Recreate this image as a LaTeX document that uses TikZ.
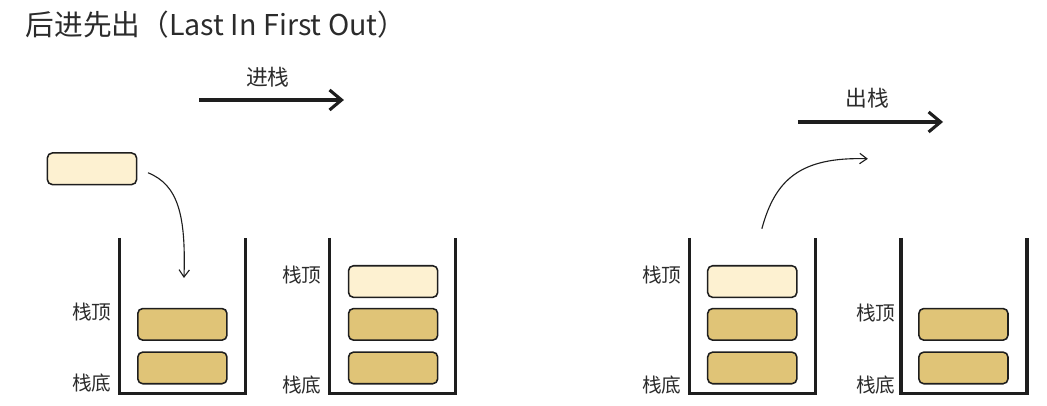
\documentclass[tikz,border=0pt]{standalone}
\usepackage{fontspec}
\setmainfont{Noto Sans CJK SC}
\usepackage{xcolor}
\usepackage{tikz}
\usetikzlibrary{arrows.meta}
\definecolor{LFGold}{HTML}{E0C477}
\definecolor{LFCream}{HTML}{FDF1D1}
\definecolor{LFInk}{HTML}{1E1E1E}
\definecolor{LFText}{HTML}{2B2B2B}
\tikzset{
  stackitem/.style={draw=LFInk,line width=1.1pt,rounded corners=3.5pt,minimum width=2.23cm,minimum height=0.79cm,inner sep=0pt},
  olditem/.style={stackitem,fill=LFGold},
  newitem/.style={stackitem,fill=LFCream},
  wall/.style={draw=LFInk,line width=2.2pt},
  sidelabel/.style={text=LFText,inner sep=0pt,font=\fontsize{14}{16}\selectfont},
  bigarrow/.style={draw=LFInk,line width=2.2pt,-{Straight Barb[length=3mm,width=5mm]}},
  thinarrow/.style={draw=LFInk,line width=0.8pt,-{Straight Barb[length=1.8mm,width=2.6mm]}}
}

\begin{document}
\begin{tikzpicture}[x=1cm,y=1cm]
\path[use as bounding box] (0,0) rectangle (26.18,10.15);
\node[anchor=west,inner sep=0pt,text=LFText,font=\fontsize{20.4}{24}\selectfont] (title) at (0.64,9.53) {后进先出（Last In First Out）};
% push
\coordinate (push-s) at (4.98,7.65);
\coordinate (push-e) at (8.60,7.65);
\draw[bigarrow] (push-s) -- (push-e);
\node[text=LFText,font=\fontsize{15.5}{18}\selectfont] (push-lbl) at (6.70,8.23) {进栈};
\node[newitem] (in-item) at (2.30,5.93) {};
\coordinate (in-s) at (3.70,5.83);
\coordinate (in-e) at (4.60,3.20);
\draw[thinarrow] (in-s) .. controls (4.45,5.53) and (4.65,4.78) .. (in-e);
% stack 1
\draw[wall] (2.98,4.20) -- (2.98,0.30) -- (6.13,0.30) -- (6.13,4.20);
\node[olditem] (s1-b) at (4.56,0.95) {};
\node[olditem] (s1-m) at (4.56,2.04) {};
\node[sidelabel] (s1-top) at (2.30,2.35) {栈顶};
\node[sidelabel] (s1-bot) at (2.30,0.58) {栈底};
% stack 2
\draw[wall] (8.23,4.20) -- (8.23,0.30) -- (11.40,0.30) -- (11.40,4.20);
\node[olditem] (s2-b) at (9.83,0.95) {};
\node[olditem] (s2-m) at (9.83,2.04) {};
\node[newitem] (s2-t) at (9.83,3.11) {};
\node[sidelabel] (s2-top) at (7.55,3.28) {栈顶};
\node[sidelabel] (s2-bot) at (7.55,0.53) {栈底};
% pop
\coordinate (pop-s) at (19.95,7.10);
\coordinate (pop-e) at (23.58,7.10);
\draw[bigarrow] (pop-s) -- (pop-e);
\node[text=LFText,font=\fontsize{15.5}{18}\selectfont] (pop-lbl) at (21.68,7.70) {出栈};
\coordinate (out-s) at (19.05,4.43);
\coordinate (out-e) at (21.70,6.18);
\draw[thinarrow] (out-s) .. controls (19.38,5.65) and (20.00,6.23) .. (out-e);
% stack 3
\draw[wall] (17.23,4.20) -- (17.23,0.30) -- (20.40,0.30) -- (20.40,4.20);
\node[olditem] (s3-b) at (18.81,0.95) {};
\node[olditem] (s3-m) at (18.81,2.04) {};
\node[newitem] (s3-t) at (18.81,3.11) {};
\node[sidelabel] (s3-top) at (16.55,3.28) {栈顶};
\node[sidelabel] (s3-bot) at (16.55,0.53) {栈底};
% stack 4
\draw[wall] (22.53,4.20) -- (22.53,0.30) -- (25.68,0.30) -- (25.68,4.20);
\node[olditem] (s4-b) at (24.09,0.95) {};
\node[olditem] (s4-m) at (24.09,2.04) {};
\node[sidelabel] (s4-top) at (21.90,2.33) {栈顶};
\node[sidelabel] (s4-bot) at (21.90,0.53) {栈底};
\end{tikzpicture}
\end{document}
